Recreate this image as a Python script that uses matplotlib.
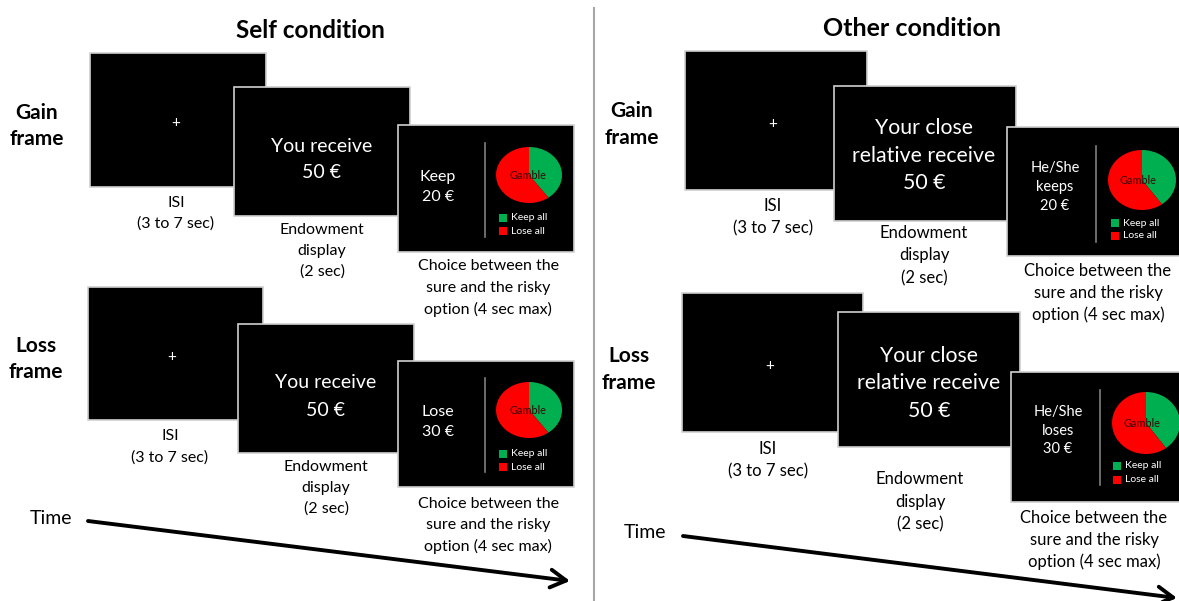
import matplotlib
matplotlib.use("Agg")
import matplotlib.pyplot as plt
from matplotlib.patches import Rectangle, FancyArrowPatch

plt.rcParams['font.family'] = ['Lato', 'DejaVu Sans']

# ---------------- data ----------------
conditions = ["Self condition", "Other condition"]
frames = ["Gain", "Loss"]
endowment = 50
sure_amounts = [20, 30]                      # gain: keep 20, loss: lose 30
gamble_labels = ["Keep all", "Lose all"]
gamble_shares = [0.4, 0.6]                   # pie slices (green, red)
gamble_colors = ["#00B050", "#FF0000"]
self_endow_text = "You receive"
other_endow_text = ["Your close", "relative receive"]
self_sure_verbs = ["Keep", "Lose"]
other_sure_verbs = ["keeps", "loses"]
isi_label = ["ISI", "(3 to 7 sec)"]
endow_label = ["Endowment", "display", "(2 sec)"]
choice_label = ["Choice between the", "sure and the risky", "option (4 sec max)"]

W, H = 1179, 601
fig = plt.figure(figsize=(W / 100, H / 100), dpi=100)
ax = fig.add_axes([0, 0, 1, 1])
ax.set_xlim(0, W)
ax.set_ylim(H, 0)
ax.axis("off")

EDGE = "#d0d0d0"


def box(x0, y0, x1, y1, z):
    ax.add_patch(Rectangle((x0, y0), x1 - x0, y1 - y0, facecolor="black",
                           edgecolor=EDGE, linewidth=1.2, zorder=z))


def lines(x, ys, texts, size, color="black", weight="normal", z=10):
    for y, t in zip(ys, texts):
        ax.text(x, y, t, ha="center", va="center", fontsize=size,
                color=color, fontweight=weight, zorder=z)


def pie(cx, cy, rx, ry, tdx):
    pax = fig.add_axes([(cx - rx) / W, 1 - (cy + ry) / H, 2 * rx / W, 2 * ry / H])
    pax.pie(gamble_shares, colors=gamble_colors, startangle=90,
            counterclock=False, wedgeprops=dict(linewidth=0))
    pax.set_aspect("auto")
    pax.set_xlim(-1, 1)
    pax.set_ylim(-1, 1)
    pax.axis("off")
    pax.text(tdx / rx, -0.02, "Gamble", ha="center", va="center",
             fontsize=7.8, color="#3a0505")
    return pax


def legend(x, y1, y2, size):
    for y, lab, col in zip((y1, y2), gamble_labels, gamble_colors):
        ax.add_patch(Rectangle((x - 4, y - 4), 8, 8, facecolor=col,
                               edgecolor="none", zorder=12))
        ax.text(x + 8, y, lab, ha="left", va="center", fontsize=size,
                color="white", zorder=12)


# ---- divider ----
ax.plot([594, 594], [8, 601], color="#a6a6a6", lw=1.5, zorder=1)

# ---- titles ----
ax.text(310, 31, conditions[0], ha="center", va="center", fontsize=17.5,
        fontweight="bold")
ax.text(912, 28, conditions[1], ha="center", va="center", fontsize=18,
        fontweight="bold")

# ================= SELF =================
self_layout = [
    dict(lab=(37, 113, 139), isi=(90, 53, 266, 187), plus=(176, 123),
         isi_lab=(176, 203, 224),
         end=(234, 87, 410, 216), end_txt=(322, 146, 173),
         end_lab=(322, 230, 251, 272),
         ch=(398, 125, 574, 252), sure=(438, 177, 197), div=(485, 143, 237),
         pie=(529, 175, 33, 28), leg=(503, 218, 231),
         ch_lab=(488, 266, 288, 309)),
    dict(lab=(36, 346, 372), isi=(88, 287, 263, 420), plus=(172, 357),
         isi_lab=(170, 436, 458),
         end=(238, 324, 414, 453), end_txt=(326, 383, 410),
         end_lab=(326, 467, 488, 509),
         ch=(398, 361, 574, 487), sure=(438, 412, 432), div=(485, 378, 472),
         pie=(529, 410, 33, 28), leg=(503, 454, 467),
         ch_lab=(488, 504, 525, 546)),
]

for i, L in enumerate(self_layout):
    lines(L["lab"][0], L["lab"][1:], [frames[i], "frame"], 15, weight="bold")
    box(*L["isi"], z=2)
    ax.text(*L["plus"], "+", ha="center", va="center", color="white",
            fontsize=11, zorder=3)
    lines(L["isi_lab"][0], L["isi_lab"][1:], isi_label, 11.5)
    box(*L["end"], z=4)
    lines(L["end_txt"][0], L["end_txt"][1:],
          [self_endow_text, f"{endowment} €"], 14, color="white")
    lines(L["end_lab"][0], L["end_lab"][1:], endow_label, 11.5)
    box(*L["ch"], z=6)
    lines(L["sure"][0], L["sure"][1:],
          [self_sure_verbs[i], f"{sure_amounts[i]} €"], 11.5, color="white")
    ax.plot([L["div"][0]] * 2, L["div"][1:], color="#7f7f7f", lw=1.2, zorder=8)
    cx, cy, rx, ry = L["pie"]
    pie(cx, cy, rx, ry, -1)
    legend(*L["leg"], 7.5)
    lines(L["ch_lab"][0], L["ch_lab"][1:], choice_label, 11.5)

# ================= OTHER =================
other_layout = [
    dict(lab=(632, 111, 138), isi=(685, 51, 867, 190), plus=(773, 124),
         isi_lab=(773, 206, 228),
         end=(834, 86, 1016, 221), end_txt=(924, 128, 156, 183),
         end_lab=(924, 233, 255, 278),
         ch=(1007, 127, 1185, 256), sure=(1055, 168, 187, 206), div=(1096, 146, 242),
         pie=(1142, 180, 34, 30), leg=(1115, 223, 236),
         ch_lab=(1098, 271, 293, 315)),
    dict(lab=(629, 356, 383), isi=(682, 293, 863, 432), plus=(770, 366),
         isi_lab=(768, 449, 471),
         end=(838, 312, 1020, 447), end_txt=(929, 356, 383, 411),
         end_lab=(920, 479, 502, 524),
         ch=(1011, 372, 1185, 502), sure=(1058, 412, 431, 449), div=(1100, 390, 485),
         pie=(1146, 423, 34, 31), leg=(1117, 466, 480),
         ch_lab=(1094, 518, 540, 562)),
]

for i, L in enumerate(other_layout):
    lines(L["lab"][0], L["lab"][1:], [frames[i], "frame"], 15, weight="bold")
    box(*L["isi"], z=2)
    ax.text(*L["plus"], "+", ha="center", va="center", color="white",
            fontsize=11, zorder=3)
    lines(L["isi_lab"][0], L["isi_lab"][1:], isi_label, 12)
    box(*L["end"], z=4)
    lines(L["end_txt"][0], L["end_txt"][1:],
          other_endow_text + [f"{endowment} €"], 15.3, color="white")
    lines(L["end_lab"][0], L["end_lab"][1:], endow_label, 12)
    box(*L["ch"], z=6)
    lines(L["sure"][0], L["sure"][1:],
          ["He/She", other_sure_verbs[i], f"{sure_amounts[i]} €"], 10.5,
          color="white")
    ax.plot([L["div"][0]] * 2, L["div"][1:], color="#7f7f7f", lw=1.2, zorder=8)
    cx, cy, rx, ry = L["pie"]
    pie(cx, cy, rx, ry, -4)
    legend(*L["leg"], 7.5)
    lines(L["ch_lab"][0], L["ch_lab"][1:], choice_label, 12)

# ---- time arrows ----
for (tx, ty), (x0, y0), (x1, y1) in [((51, 518), (88, 521), (570, 581)),
                                     ((645, 533), (683, 536), (1177, 598))]:
    ax.text(tx, ty, "Time", ha="center", va="center", fontsize=14)
    ax.add_patch(FancyArrowPatch((x0, y0), (x1, y1),
                                 arrowstyle="->,head_length=7,head_width=4",
                                 color="black", lw=2.8, mutation_scale=1.6,
                                 shrinkA=0, shrinkB=0, zorder=5))

fig.savefig("out.png", dpi=100)
